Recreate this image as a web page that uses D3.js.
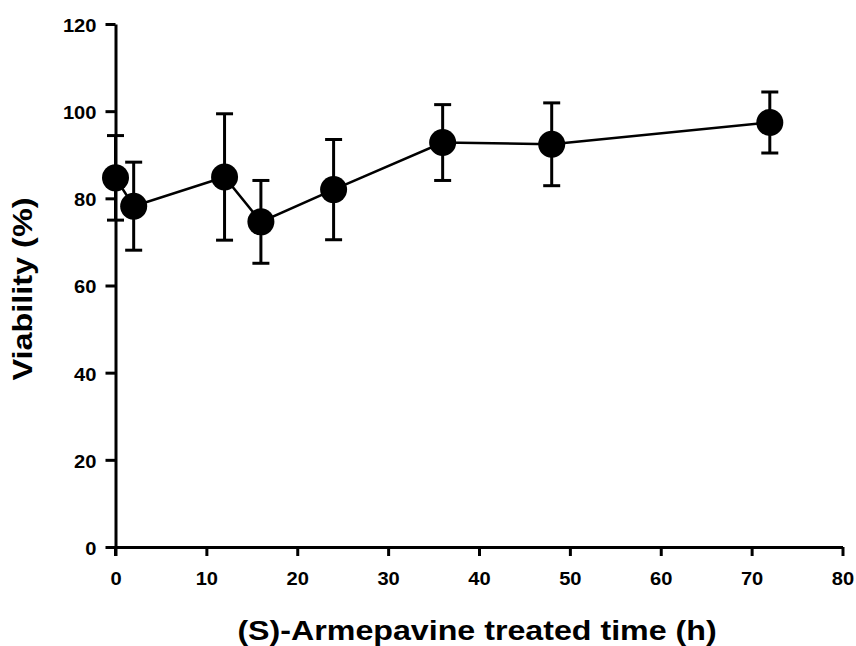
<!DOCTYPE html>
<html><head><meta charset="utf-8">
<script src="https://cdn.jsdelivr.net/npm/d3@7"></script>
<style>body{margin:0;background:#fff}svg{display:block}</style>
</head><body>
<svg id="c" width="856" height="646"></svg>
<script>
const times = [0, 2, 12, 16, 24, 36, 48, 72];
const viability = [84.7, 78.2, 84.9, 74.6, 82.0, 92.8, 92.4, 97.4];
const errors = [9.7, 10.1, 14.5, 9.5, 11.5, 8.7, 9.5, 7.0];
const xTicks = [0, 10, 20, 30, 40, 50, 60, 70, 80];
const yTicks = [0, 20, 40, 60, 80, 100, 120];

const svg = d3.select("#c");
const x = d3.scaleLinear().domain([0, 80]).range([115.5, 842.5]);
const y = d3.scaleLinear().domain([0, 120]).range([547, 24]);
const font = "'Liberation Sans', Arial, sans-serif";
const stretch = 1.15;

const xAxis = svg.append("g").attr("transform", `translate(0,${y(0)})`)
  .call(d3.axisBottom(x).tickValues(xTicks).tickSize(9).tickPadding(17).tickSizeOuter(0));
const yAxis = svg.append("g").attr("transform", `translate(${x(0)},0)`)
  .call(d3.axisLeft(y).tickValues(yTicks).tickSize(10).tickPadding(9).tickSizeOuter(0));
[xAxis, yAxis].forEach(a => {
  a.select(".domain").attr("stroke", "#000").attr("stroke-width", 3);
  a.selectAll(".tick line").attr("stroke", "#000").attr("stroke-width", 3);
  a.selectAll(".tick text").attr("fill", "#000").style("font-family", font)
    .style("font-size", "17.5px").style("font-weight", "bold")
    .each(function() {
      const t = d3.select(this);
      const tx = +t.attr("x") || 0, ty = +t.attr("y") || 0;
      t.attr("x", 0).attr("y", 0)
       .attr("transform", `translate(${tx},${ty}) scale(${stretch},1)`);
    });
});
yAxis.selectAll(".tick text").attr("dy", "0.42em");
// extend y axis slightly below x axis
svg.append("line").attr("x1", x(0)).attr("x2", x(0)).attr("y1", y(0)).attr("y2", y(0) + 9)
  .attr("stroke", "#000").attr("stroke-width", 3);

const data = times.map((t, i) => ({t, v: viability[i], e: errors[i]}));

// error bars
const eb = svg.append("g").attr("stroke", "#000").attr("stroke-width", 3);
data.forEach(d => {
  eb.append("line").attr("x1", x(d.t)).attr("x2", x(d.t)).attr("y1", y(d.v + d.e)).attr("y2", y(d.v - d.e));
  [d.v + d.e, d.v - d.e].forEach(val => {
    eb.append("line").attr("x1", x(d.t) - 8.5).attr("x2", x(d.t) + 8.5).attr("y1", y(val)).attr("y2", y(val));
  });
});

svg.append("path").datum(data)
  .attr("d", d3.line().x(d => x(d.t)).y(d => y(d.v)))
  .attr("fill", "none").attr("stroke", "#000").attr("stroke-width", 2.5);

svg.append("g").selectAll("circle").data(data).join("circle")
  .attr("cx", d => x(d.t)).attr("cy", d => y(d.v)).attr("r", 13.5).attr("fill", "#000");

svg.append("text").attr("transform", `translate(477,640) scale(1.15,1)`).attr("text-anchor", "middle")
  .style("font-family", font).style("font-size", "28px").style("font-weight", "bold")
  .text("(S)-Armepavine treated time (h)");
svg.append("text").attr("transform", `translate(32,289) rotate(-90) scale(1.2,1)`)
  .attr("text-anchor", "middle")
  .style("font-family", font).style("font-size", "27px").style("font-weight", "bold")
  .text("Viability (%)");
</script>
</body></html>
